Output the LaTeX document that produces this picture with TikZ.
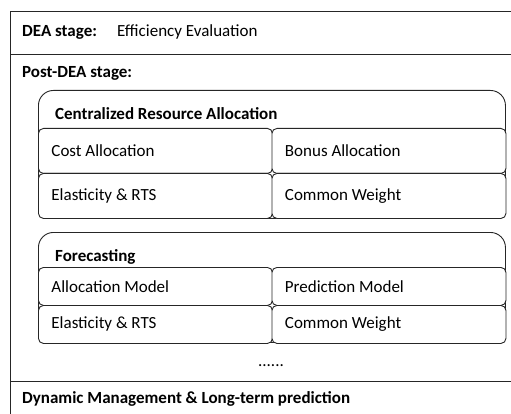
\documentclass[tikz,border=0pt]{standalone}
\usepackage{fontspec}
\setmainfont{Carlito}
\begin{document}
\begin{tikzpicture}[x=1pt,y=-1pt,
  frame/.style={draw=black!85,line width=0.9pt},
  group/.style={draw=black!85,line width=0.9pt,fill=white,rounded corners=15pt,
    minimum width=467pt,minimum height=128pt,anchor=north west,inner sep=0pt},
  cell/.style={draw=black!85,line width=0.9pt,fill=white,rounded corners=5pt,
    anchor=north west,text width=208pt,inner xsep=13pt,inner ysep=0pt,
    minimum height=45pt,align=flush left,font=\fontsize{17}{20}\selectfont},
  lbl/.style={anchor=west,inner sep=0pt,font=\fontsize{17}{20}\selectfont},
  hd/.style={lbl,font=\fontsize{17}{20}\selectfont\bfseries}]
\useasboundingbox (0,0) rectangle (511,414);
\clip (0,0) rectangle (511,414);

% stage frame
\draw[frame] (520,11) -- (10,11) -- (10,430);
\draw[frame] (10,54) -- (520,54);
\draw[frame] (10,381) -- (520,381);

\node[hd] (dea) at (22,32) {DEA stage:};
\node[lbl] (eff) at (117,32) {Efficiency Evaluation};
\node[hd] (post) at (22,73) {Post-DEA stage:};

% centralized resource allocation
\node[group] (cra) at (38,90) {};
\node[hd] (crat) at (55,114) {Centralized Resource Allocation};
\node[cell] (c11) at (38,128) {Cost Allocation};
\node[cell] (c12) at (271.5,128) {Bonus Allocation};
\node[cell] (c21) at (38,173) {Elasticity \& RTS};
\node[cell] (c22) at (271.5,173) {Common Weight};

% forecasting
\node[group,minimum height=110pt] (fc) at (38,232) {};
\node[hd] (fct) at (55,257) {Forecasting};
\node[cell,minimum height=38pt] (f11) at (38,267) {Allocation Model};
\node[cell,minimum height=38pt] (f12) at (271.5,267) {Prediction Model};
\node[cell,minimum height=38pt] (f21) at (38,305) {Elasticity \& RTS};
\node[cell,minimum height=38pt] (f22) at (271.5,305) {Common Weight};

\node[inner sep=0pt,font=\fontsize{17}{20}\selectfont] (dots) at (271,366) {......};

\node[hd] (dyn) at (22,399) {Dynamic Management \& Long-term prediction};
\end{tikzpicture}
\end{document}
